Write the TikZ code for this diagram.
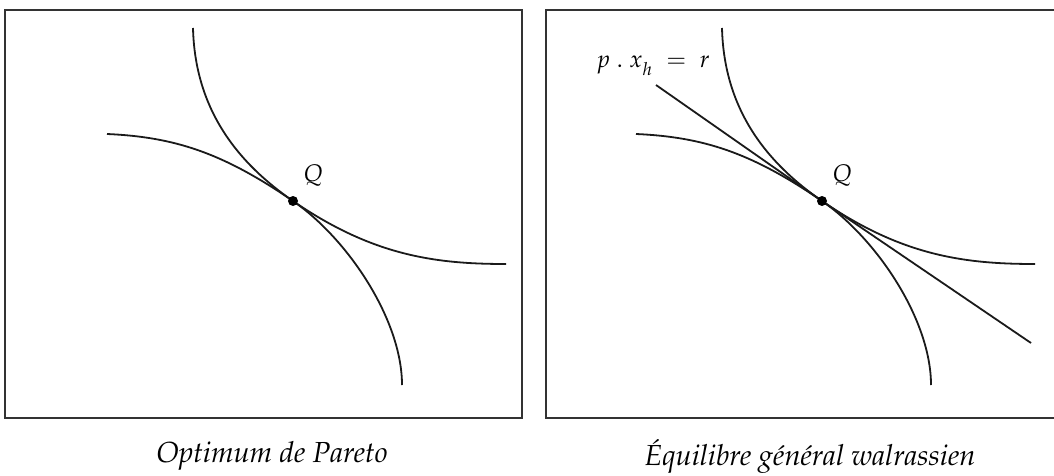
\documentclass[tikz,border=0pt]{standalone}
\usepackage{mathpazo}
\usepackage[T1]{fontenc}
\usepackage{tikz}
\usetikzlibrary{
  positioning,
  calc
}
\definecolor{egInk}{HTML}{1A1A1A}
\definecolor{egFrame}{HTML}{333333}
\tikzset{
  egframe/.style={draw=egFrame, line width=1pt},
  egcurve/.style={draw=egInk, line width=0.9pt},
  egbudget/.style={draw=egInk, line width=0.9pt},
  egdot/.style={circle, fill=black, inner sep=0pt, minimum size=5pt},
  eglabel/.style={font=\fontsize{12}{14}\selectfont, inner sep=1pt},
  egcaption/.style={font=\fontsize{14.5}{16}\selectfont\itshape, inner sep=0pt}
}

\begin{document}
\begin{tikzpicture}[x=0.5pt, y=-0.5pt]
  \useasboundingbox (0,0) rectangle (1054,476);
  % left panel
  \draw[egframe] (5,10) rectangle (522,418);
  \draw[egcurve] (193,28) .. controls (195,110) and (238,163) .. (293,201)
                 .. controls (373,256) and (436,264) .. (506,264);
  \draw[egcurve] (107,134) .. controls (175,137) and (223,153) .. (293,201)
                 .. controls (348,239) and (402,320) .. (402,385);
  \node[egdot] (qa) at (293,201) {};
  \node[eglabel, above right=4pt and 2pt of qa] (qalab) {$Q$};
  \node[egcaption] (capa) at (272,456) {Optimum de Pareto};
  % right panel
  \begin{scope}[xshift=264.5pt]
    \draw[egframe] (17,10) rectangle (530,418);
    \draw[egcurve] (193,28) .. controls (195,110) and (238,163) .. (293,201)
                   .. controls (373,256) and (436,264) .. (506,264);
    \draw[egcurve] (107,134) .. controls (175,137) and (223,153) .. (293,201)
                   .. controls (348,239) and (402,320) .. (402,385);
    \coordinate (ba) at (127,85);
    \coordinate (bb) at (502,343);
    \node[egdot] (qb) at (293,201) {};
    \node[eglabel, above right=4pt and 2pt of qb] (qblab) {$Q$};
    \node[eglabel] (blab) at (124,66) {$p\;.\;x_{\lower2pt\hbox{$\scriptstyle h$}}\;=\;r$};
    \node[egcaption] (capb) at (281,456) {Équilibre général walrassien};
  \end{scope}
  \draw[egbudget] (ba) -- (qb) -- (bb);
\end{tikzpicture}
\end{document}
